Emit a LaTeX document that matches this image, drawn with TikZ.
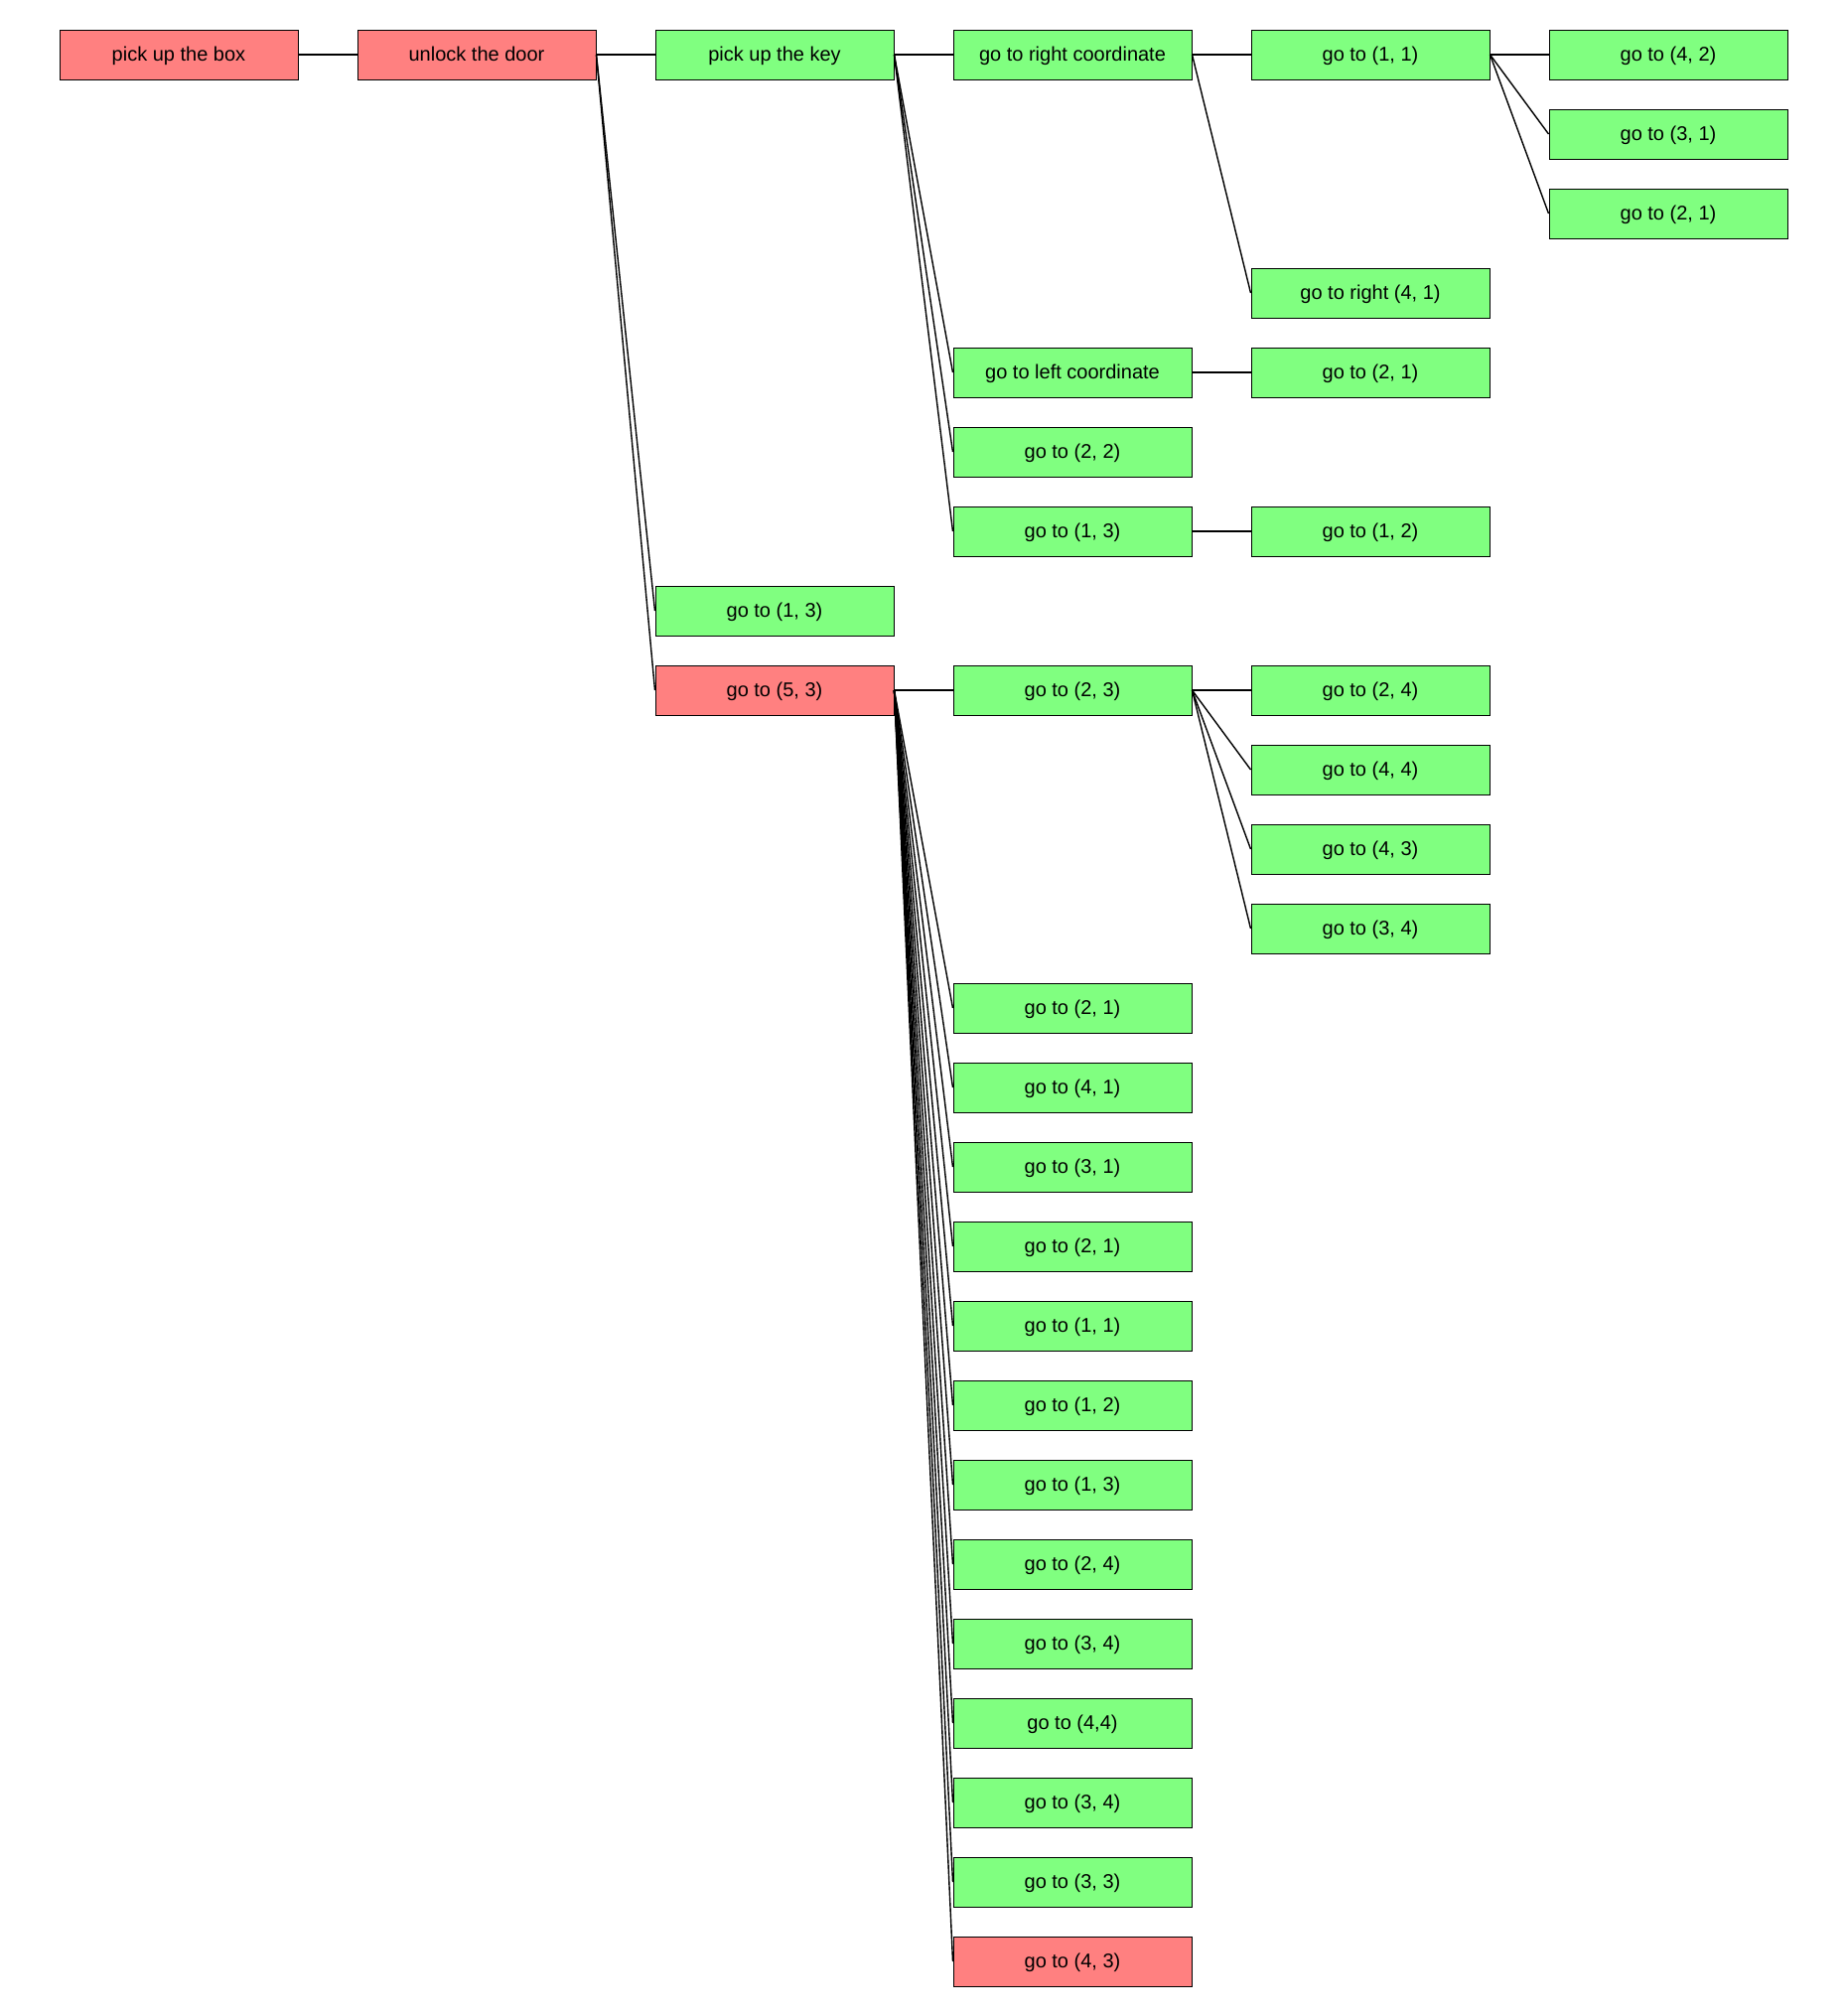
\documentclass[tikz,border=0pt]{standalone}
\usepackage{fontspec}
\setmainfont{Liberation Sans}
\definecolor{nred}{HTML}{FF8080}
\definecolor{ngreen}{HTML}{80FF80}
\tikzset{
  box/.style={draw=black, line width=1pt, minimum width=240pt, minimum height=50pt,
    inner sep=0pt, text height=15pt, text depth=3pt,
    font=\fontsize{20}{24}\selectfont, text=black},
  gbox/.style={box, fill=ngreen},
  rbox/.style={box, fill=nred},
  link/.style={line width=1.4pt, black}
}
\newcommand\bx[5]{\node[#1] (#2) at ({180+300*#3},{-55-80*#4}) {#5};}
\begin{document}
\begin{tikzpicture}[x=1pt,y=1pt]
\fill[white] (0,0) rectangle (1860,-2030);
\useasboundingbox (0,0) rectangle (1860,-2030);
\bx{rbox}{pbox}{0}{0}{pick up the box}
\bx{rbox}{door}{1}{0}{unlock the door}
\bx{gbox}{key}{2}{0}{pick up the key}
\bx{gbox}{rc}{3}{0}{go to right coordinate}
\bx{gbox}{a11}{4}{0}{go to (1, 1)}
\bx{gbox}{a42}{5}{0}{go to (4, 2)}
\bx{gbox}{a31}{5}{1}{go to (3, 1)}
\bx{gbox}{a21}{5}{2}{go to (2, 1)}
\bx{gbox}{r41}{4}{3}{go to right (4, 1)}
\bx{gbox}{lc}{3}{4}{go to left coordinate}
\bx{gbox}{b21}{4}{4}{go to (2, 1)}
\bx{gbox}{b22}{3}{5}{go to (2, 2)}
\bx{gbox}{b13}{3}{6}{go to (1, 3)}
\bx{gbox}{b12}{4}{6}{go to (1, 2)}
\bx{gbox}{c13}{2}{7}{go to (1, 3)}
\bx{rbox}{c53}{2}{8}{go to (5, 3)}
\bx{gbox}{c23}{3}{8}{go to (2, 3)}
\bx{gbox}{d24}{4}{8}{go to (2, 4)}
\bx{gbox}{d44}{4}{9}{go to (4, 4)}
\bx{gbox}{d43}{4}{10}{go to (4, 3)}
\bx{gbox}{d34}{4}{11}{go to (3, 4)}
\bx{gbox}{e1}{3}{12}{go to (2, 1)}
\bx{gbox}{e2}{3}{13}{go to (4, 1)}
\bx{gbox}{e3}{3}{14}{go to (3, 1)}
\bx{gbox}{e4}{3}{15}{go to (2, 1)}
\bx{gbox}{e5}{3}{16}{go to (1, 1)}
\bx{gbox}{e6}{3}{17}{go to (1, 2)}
\bx{gbox}{e7}{3}{18}{go to (1, 3)}
\bx{gbox}{e8}{3}{19}{go to (2, 4)}
\bx{gbox}{e9}{3}{20}{go to (3, 4)}
\bx{gbox}{e10}{3}{21}{go to (4,4)}
\bx{gbox}{e11}{3}{22}{go to (3, 4)}
\bx{gbox}{e12}{3}{23}{go to (3, 3)}
\bx{rbox}{e13}{3}{24}{go to (4, 3)}
% connectors
\draw[link] (pbox.east) -- (door.west);
\draw[link] (door.east) -- (key.west);
\draw[link] (door.east) -- (c13.west);
\draw[link] (door.east) -- (c53.west);
\draw[link] (key.east) -- (rc.west);
\draw[link] (key.east) -- (lc.west);
\draw[link] (key.east) -- (b22.west);
\draw[link] (key.east) -- (b13.west);
\draw[link] (rc.east) -- (a11.west);
\draw[link] (rc.east) -- (r41.west);
\draw[link] (a11.east) -- (a42.west);
\draw[link] (a11.east) -- (a31.west);
\draw[link] (a11.east) -- (a21.west);
\draw[link] (lc.east) -- (b21.west);
\draw[link] (b13.east) -- (b12.west);
\draw[link] (c53.east) -- (c23.west);
\draw[link] (c23.east) -- (d24.west);
\draw[link] (c23.east) -- (d44.west);
\draw[link] (c23.east) -- (d43.west);
\draw[link] (c23.east) -- (d34.west);
\foreach \i in {1,...,13} {\draw[link] (c53.east) -- (e\i.west);}
\end{tikzpicture}
\end{document}
